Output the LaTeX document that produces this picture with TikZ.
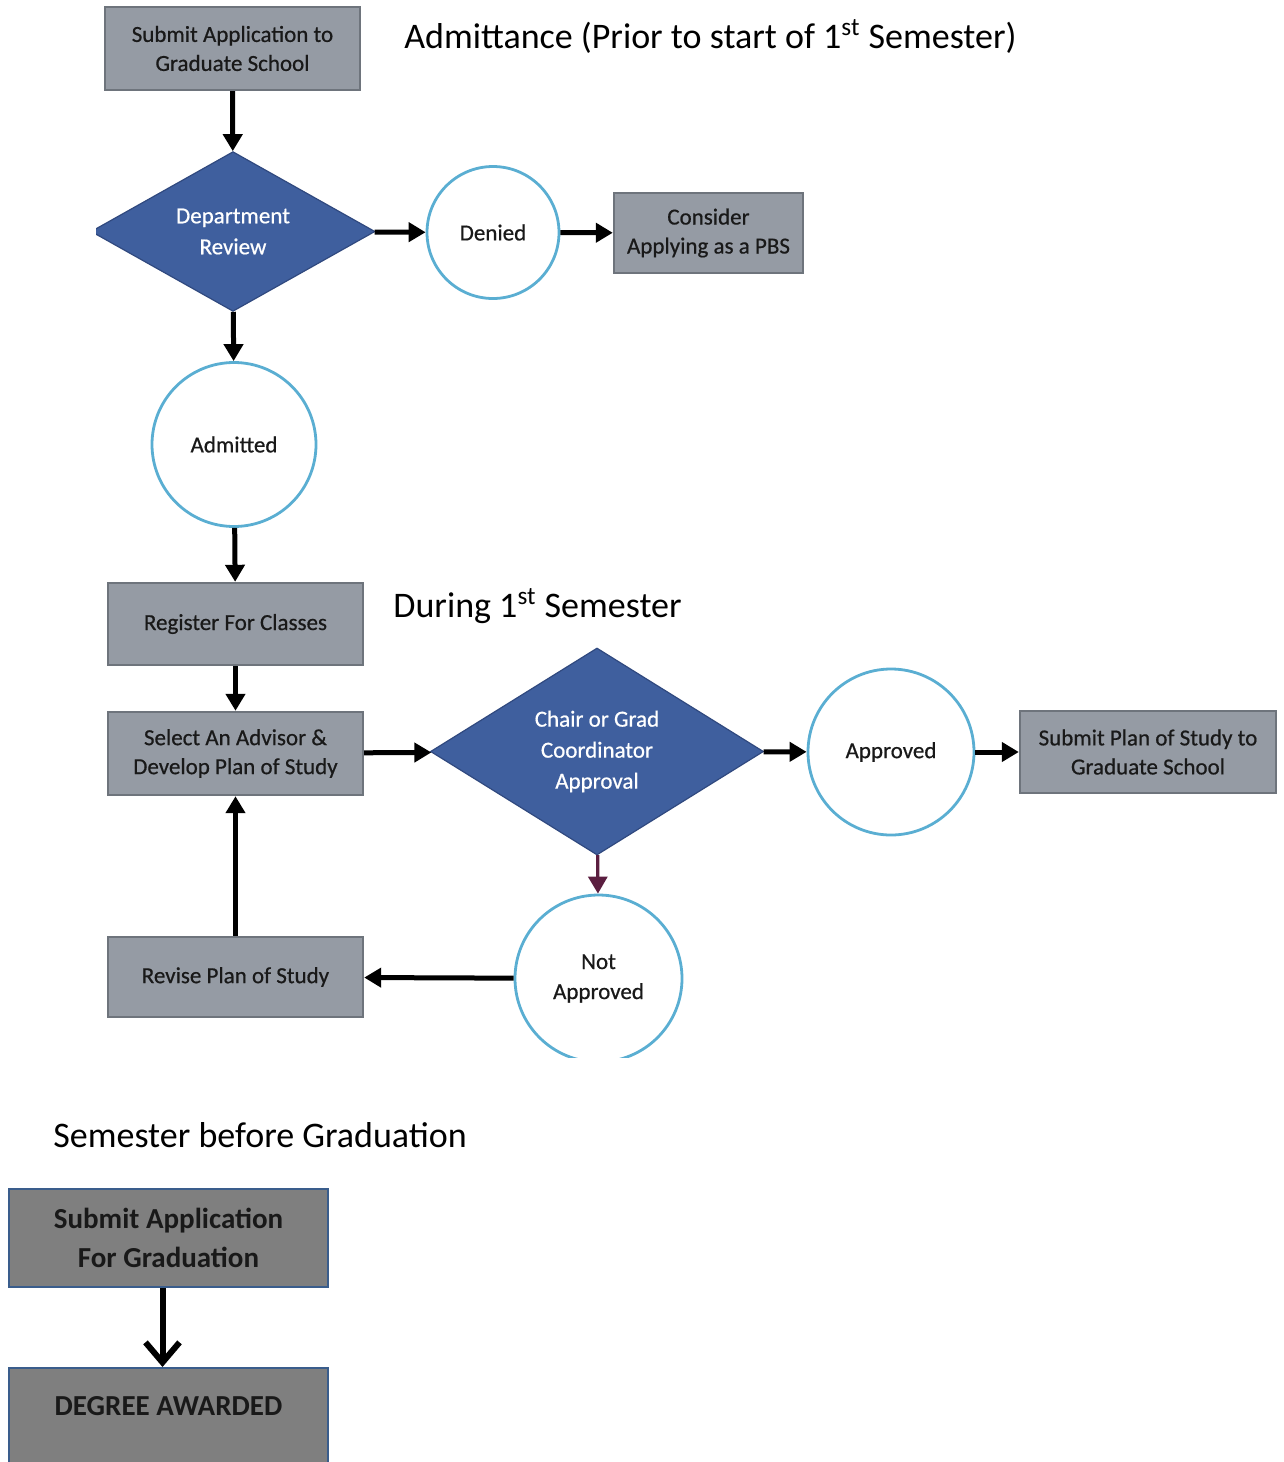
\documentclass[tikz,border=0pt]{standalone}
\usepackage{fontspec}
\setmainfont{Carlito}
\newfontfamily\flowfont[FakeBold=0.6]{Carlito}
\usetikzlibrary{shapes.geometric}
\usetikzlibrary{arrows.meta}

\definecolor{boxgray}{HTML}{959BA4}
\definecolor{boxedge}{HTML}{6E747C}
\definecolor{reviewblue}{HTML}{3F5F9E}
\definecolor{reviewedge}{HTML}{30497F}
\definecolor{ringblue}{HTML}{5AAED2}
\definecolor{gradgray}{HTML}{7F7F7F}
\definecolor{gradedge}{HTML}{3A5D8C}
\definecolor{noarrow}{HTML}{5B1E40}

\begin{document}
\begin{tikzpicture}[x=0.5pt,y=-0.5pt,
  graybox/.style={draw=boxedge,line width=1.2pt,fill=boxgray,inner sep=0pt,
    align=center,text=black!90,font=\flowfont\fontsize{11.5}{14.5}\selectfont},
  bluediamond/.style={diamond,draw=reviewedge,line width=0.6pt,fill=reviewblue,
    inner sep=0pt,align=center,text=white,font=\flowfont\fontsize{11.5}{15.5}\selectfont},
  ring/.style={circle,draw=ringblue,line width=1.4pt,fill=white,inner sep=0pt,
    align=center,text=black!90,font=\flowfont\fontsize{11.5}{15}\selectfont},
  gradbox/.style={draw=gradedge,line width=1.2pt,fill=gradgray,inner xsep=0pt,
    align=center,text=black!90,minimum width=159.5pt,
    font=\bfseries\fontsize{14.5}{19.5}\selectfont},
  heading/.style={anchor=base west,inner sep=0pt,font=\fontsize{18}{20}\selectfont},
  flow/.style={line width=2.5pt,-{Triangle[length=8.5pt,width=9.5pt]}}]

\useasboundingbox (0,0) rectangle (1284,1462);

% Admittance and first semester
\begin{scope}
\clip (96,0) rectangle (1284,1057);

\node[heading] (head1) at (404,48) {Admittance (Prior to start of 1\textsuperscript{st} Semester)};
\node[heading] (head2) at (393,617) {During 1\textsuperscript{st} Semester};

\node[graybox,minimum width=127.5pt,minimum height=41.5pt] (apply) at (232.5,48.5)
  {Submit Application to\\Graduate School};
\node[bluediamond,minimum width=142pt,minimum height=76.5pt] (review) at (233,231.5)
  {Department\\Review};
\node[ring,minimum size=66pt] (denied) at (493,232.5) {Denied};
\node[graybox,minimum width=94.5pt,minimum height=40pt] (pbs) at (708.5,233)
  {Consider\\Applying as a PBS};
\node[ring,minimum size=82pt] (admit) at (234,444.5) {Admitted};

\node[graybox,minimum width=127.5pt,minimum height=41pt] (register) at (235.5,624)
  {Register For Classes};
\node[graybox,minimum width=127.5pt,minimum height=41.5pt] (advisor) at (235.5,753.5)
  {Select An Advisor \&\\Develop Plan of Study};
\node[bluediamond,minimum width=166.5pt,minimum height=103.5pt] (chair) at (597,751.5)
  {Chair or Grad\\Coordinator\\Approval};
\node[ring,minimum size=83pt] (approved) at (891,752) {Approved};
\node[graybox,minimum width=128pt,minimum height=41pt] (submitplan) at (1148,752)
  {Submit Plan of Study to\\Graduate School};
\node[ring,minimum size=83.5pt] (notok) at (598.5,978.5) {Not\\Approved};
\node[graybox,minimum width=127.5pt,minimum height=40pt] (revise) at (235.5,977)
  {Revise Plan of Study};

\draw[flow] (apply) -- (review);
\draw[flow] (review) -- (denied);
\draw[flow] (denied) -- (pbs);
\draw[flow] (review) -- (admit);
\draw[flow] (admit) -- (register);
\draw[flow] (register) -- (advisor);
\draw[flow] (advisor) -- (chair);
\draw[flow] (chair) -- (approved);
\draw[flow] (approved) -- (submitplan);
\draw[flow,noarrow,line width=1.6pt] (chair) -- (notok);
\draw[flow] (notok) -- (revise);
\draw[flow] (revise) -- (advisor);
\end{scope}

% Semester before graduation
\node[heading] (head3) at (53,1147) {Semester before Graduation};
\node[gradbox,minimum height=49pt,inner ysep=0pt] (gradapp) at (168.5,1238)
  {Submit Application\\For Graduation};
\node[gradbox,anchor=north,inner ysep=0pt,text height=23.5pt,text depth=40pt]
  (degree) at (168.5,1367) {DEGREE AWARDED};
\draw[line width=3pt,-{Straight Barb[length=10pt,width=17pt]}]
  ([xshift=-3pt]gradapp.south) -- ([xshift=-3pt]degree.north);

\end{tikzpicture}
\end{document}
